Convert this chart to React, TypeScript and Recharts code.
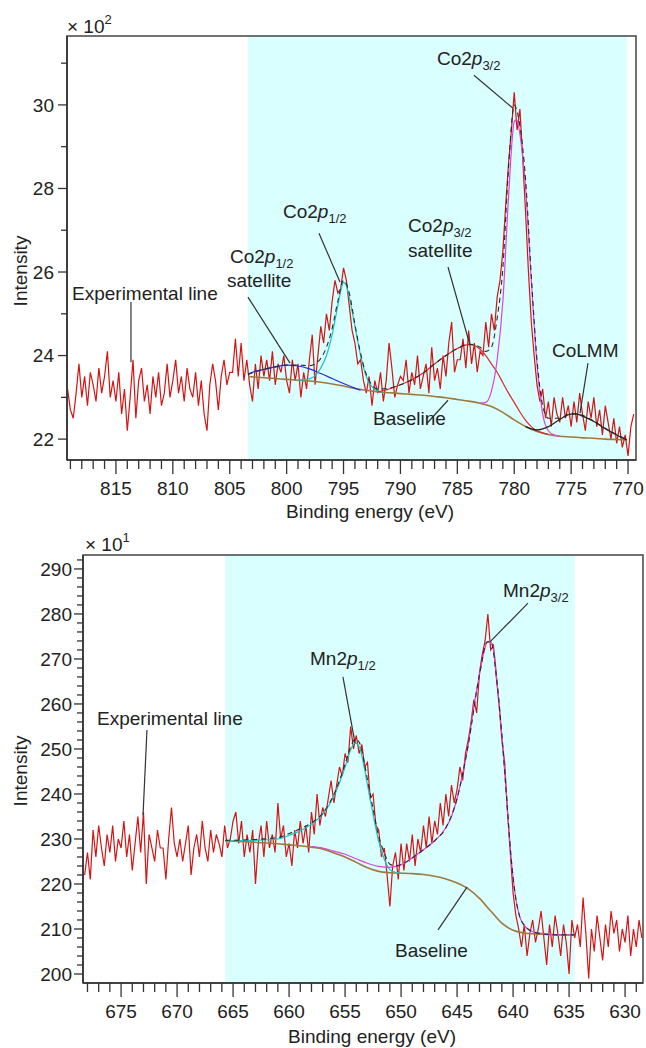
import {
  ComposedChart,
  Line,
  XAxis,
  YAxis,
  ReferenceArea,
  ReferenceLine,
  ReferenceDot,
  Label,
} from 'recharts';

const FONT = '"Liberation Sans", Arial, Helvetica, sans-serif';
const INK = '#222';

// ---------- Co 2p panel (x 10^2) ----------
// experimental counts, 0.25 eV steps starting at 819.25 eV
const coStart = 819.25;
const coStep = 0.25;
const coExperimental = [
  23.2, 22.7, 22.5, 23.1, 23.8, 23.0, 23.5, 22.8, 23.6, 23.3, 22.9, 23.7, 23.1, 23.5, 24.1, 23.0, 23.4, 22.9,
  23.6, 22.6, 23.2, 22.2, 23.0, 23.9, 22.5, 23.4, 23.7, 22.9, 23.3, 22.6, 23.5, 23.0, 23.6, 22.8, 23.1, 23.8, 23.0, 23.4,
  23.9, 23.1, 23.5, 22.9, 23.7, 23.2, 23.0, 23.6, 22.8, 23.4, 22.6, 22.2, 23.3, 23.8, 23.4, 22.7, 23.5, 23.9, 23.3, 23.6,
  23.6, 24.4, 23.5, 24.3, 23.4, 23.9, 23.3, 22.9, 23.8, 23.2, 24.0, 23.5, 23.9, 23.4, 24.1, 23.3, 23.8, 23.6, 24.0, 23.4,
  23.1, 23.9, 23.4, 23.8, 23.0, 23.6, 23.2, 23.9, 24.5, 23.3, 24.0, 24.7, 24.3, 25.0, 24.6, 25.3, 25.8, 25.5, 25.6, 26.1,
  25.8, 25.2, 24.6, 24.3, 23.8, 23.9, 23.4, 23.1, 23.5, 22.8, 23.4, 23.1, 23.6, 22.9, 23.4, 24.3, 23.7, 23.0, 23.3, 23.5,
  23.4, 23.9, 23.1, 23.6, 23.3, 24.0, 23.2, 23.5, 23.8, 23.1, 24.2, 23.4, 23.7, 23.2, 24.0, 23.5, 24.3, 24.8, 23.6, 23.9,
  23.9, 24.4, 23.7, 24.6, 23.8, 24.3, 23.6, 24.1, 24.0, 24.8, 24.2, 25.0, 24.6, 25.4, 25.8, 26.5, 27.6, 28.6, 29.4, 30.3,
  29.4, 29.9, 28.7, 27.4, 26.0, 24.8, 24.0, 23.3, 22.9, 23.2, 22.5, 22.9, 22.3, 23.0, 22.6, 22.4, 23.0, 22.5, 22.8, 22.3,
  22.9, 22.4, 23.1, 22.6, 22.2, 22.9, 22.5, 23.0, 22.3, 22.7, 22.1, 22.8, 22.4, 22.0, 22.5, 21.9, 22.3, 21.8, 22.1, 21.6,
  22.3, 22.6,
];

const coBaseline = [
  [803.4, 23.5], [802, 23.47], [801, 23.45], [800, 23.43], [799, 23.41], [798, 23.39], [797, 23.36],
  [796, 23.32], [795, 23.27], [794, 23.21], [793, 23.17], [792, 23.13], [791, 23.11], [790, 23.09],
  [789, 23.07], [788, 23.05], [787, 23.02], [786, 22.99], [785, 22.95], [784, 22.91], [783, 22.86],
  [782, 22.78], [781, 22.64], [780, 22.46], [779, 22.3], [778, 22.18], [777, 22.11], [776, 22.07],
  [775, 22.05], [774, 22.03], [773, 22.02], [772, 22.0], [771, 21.99], [770.1, 21.98],
];
const co12Satellite = [
  [803.4, 23.55], [803, 23.6], [802, 23.67], [801, 23.73], [800, 23.77], [799, 23.75], [798, 23.68],
  [797, 23.57], [796, 23.45], [795, 23.33], [794, 23.22], [793.5, 23.17],
];
const co12Peak = [
  [799, 23.41], [798, 23.44], [797.5, 23.52], [797, 23.7], [796.5, 24.0], [796, 24.5], [795.5, 25.2],
  [795.2, 25.6], [795, 25.75], [794.8, 25.7], [794.5, 25.4], [794, 24.7], [793.5, 24.0], [793, 23.5],
  [792.5, 23.25], [792, 23.15], [791.5, 23.12],
];
const co32Satellite = [
  [792, 23.13], [791, 23.2], [790, 23.3], [789, 23.42], [788, 23.58], [787, 23.8], [786, 24.0],
  [785, 24.17], [784, 24.26], [783.5, 24.24], [783, 24.15], [782.5, 24.0], [782, 23.8], [781.5, 23.6],
  [781, 23.35], [780.5, 23.1], [780, 22.88], [779.5, 22.65], [779, 22.45], [778.5, 22.3], [778, 22.2],
  [777.5, 22.15], [777, 22.11],
];
const co32Peak = [
  [783, 22.86], [782.5, 22.88], [782, 23.15], [781.5, 23.9], [781, 25.3], [780.5, 27.8], [780, 29.6],
  [779.8, 29.65], [779.5, 29.3], [779, 28.0], [778.5, 25.8], [778, 23.8], [777.5, 22.6], [777, 22.2],
  [776.5, 22.1], [776, 22.07],
];
const coLMM = [
  [779, 22.3], [778, 22.22], [777, 22.3], [776, 22.47], [775, 22.6], [774.5, 22.6], [774, 22.55],
  [773, 22.42], [772, 22.25], [771, 22.1], [770.1, 21.98],
];
const coEnvelope = [
  [803.4, 23.55], [802, 23.67], [801, 23.73], [800, 23.77], [799, 23.77], [798, 23.76], [797.5, 23.8],
  [797, 23.93], [796.5, 24.2], [796, 24.65], [795.5, 25.3], [795, 25.8], [794.5, 25.5], [794, 24.75],
  [793.5, 24.05], [793, 23.55], [792.5, 23.3], [792, 23.2], [791, 23.22], [790, 23.3], [789, 23.42],
  [788, 23.58], [787, 23.8], [786, 24.0], [785, 24.17], [784, 24.27], [783.5, 24.26], [783, 24.2],
  [782.5, 24.1], [782, 24.2], [781.5, 24.9], [781, 26.1], [780.5, 28.5], [780, 30.0], [779.8, 29.9],
  [779.5, 29.5], [779, 28.2], [778.5, 25.9], [778, 23.9], [777.5, 22.8], [777, 22.5], [776, 22.5],
  [775, 22.62], [774, 22.57], [773, 22.43], [772, 22.26], [771, 22.11], [770.1, 21.99],
];

// ---------- Mn 2p panel (x 10^1) ----------
const mnStart = 678.25;
const mnStep = 0.25;
const mnExperimental = [
  222, 227, 221, 232, 226, 233, 228, 224, 231, 227, 233, 225, 230, 228,
  234, 226, 231, 223, 229, 235, 227, 236, 220, 231, 228, 225, 232, 228, 228, 221, 230, 237, 229, 226,
  230, 225, 229, 233, 222, 228, 231, 226, 234, 228, 225, 232, 227, 231, 229, 226, 233, 228, 230, 234,
  236, 229, 234, 226, 231, 227, 232, 220, 229, 233, 226, 234, 228, 231, 227, 238, 230, 233, 226, 229,
  224, 232, 228, 234, 229, 233, 227, 236, 231, 240, 233, 237, 235, 239, 243, 238, 242, 246, 244, 249,
  247, 255, 250, 253, 249, 251, 246, 247, 239, 240, 233, 232, 226, 228, 222, 215, 224, 227, 221, 229,
  223, 229, 225, 231, 224, 230, 227, 233, 228, 235, 229, 234, 231, 238, 233, 240, 235, 242, 238, 241,
  246, 243, 249, 252, 256, 261, 258, 267, 271, 274, 280, 272, 273, 266, 260, 252, 247, 236, 227, 218,
  213, 210, 206, 211, 204, 209, 212, 207, 210, 214, 208, 202, 211, 206, 213, 209, 204, 211, 207, 200,
  212, 208, 211, 206, 217, 209, 199, 210, 205, 213, 208, 203, 211, 206, 214, 209, 212, 205, 210, 207,
  213, 204, 210, 206, 212, 208,
];

const mnBaseline = [
  [665.7, 229.6], [664, 229.4], [662, 229.1], [660, 228.7], [658, 228.2], [657, 227.8], [656, 226.9],
  [655, 226.0], [654, 224.8], [653, 223.6], [652, 222.8], [651, 222.5], [650, 222.4], [649, 222.3],
  [648, 222.1], [647, 221.7], [646, 221.1], [645, 220.2], [644, 218.9], [643, 216.8], [642, 214.0],
  [641, 211.3], [640, 209.7], [639, 209.1], [638, 208.9], [637, 208.8], [636, 208.7], [634.5, 208.7],
];
const mn12Peak = [
  [665.7, 229.6], [663, 229.7], [661, 230.0], [660, 230.8], [659, 231.8], [658, 233.3], [657, 235.5],
  [656, 239.5], [655.5, 242.5], [655, 246], [654.5, 249.8], [654.1, 251.3], [653.7, 250.3], [653.3, 246],
  [653, 242], [652.5, 235.5], [652, 229.5], [651.5, 225.5], [651, 223.2], [650.5, 222.6], [650, 222.4],
];
const mn32Peak = [
  [658, 228.3], [657, 228.0], [656, 227.3], [655, 226.6], [654, 225.6], [653, 224.6], [652, 223.9],
  [651, 223.7], [650, 224.3], [649, 225.8], [648, 227.6], [647, 229.6], [646, 232.5], [645.5, 235],
  [645, 239], [644.5, 244.5], [644, 251], [643.5, 259.5], [643, 266.5], [642.6, 271.5], [642.3, 273.8],
  [642, 273.8], [641.7, 271.5], [641.4, 264], [641, 253], [640.6, 240], [640.2, 226.5], [639.8, 217.5],
  [639.4, 212.7], [639, 210.8], [638.5, 209.7], [638, 209.2], [637, 208.9], [636, 208.7], [634.5, 208.7],
];
const mnEnvelope = [
  [665.7, 229.7], [663, 229.9], [661, 230.3], [660, 231.2], [659, 232.3], [658, 233.6], [657, 235.7],
  [656, 239.9], [655, 246.6], [654.5, 250.5], [654.1, 252.2], [653.7, 251.3], [653.3, 247.2], [653, 243.1],
  [652.5, 236.7], [652, 230.6], [651.5, 226.9], [651, 224.4], [650.5, 224.0], [650, 224.3], [649, 225.8],
  [648, 227.6], [647, 229.6], [646, 232.5], [645, 239], [644, 251], [643, 266.5], [642.3, 273.8],
  [642, 273.8], [641.4, 264], [641, 253], [640.6, 240], [640.2, 226.5], [639.8, 217.5], [639.4, 212.7],
  [639, 210.8], [638, 209.2], [636, 208.7], [634.5, 208.7],
];

// ---------- annotations ----------
type Note = { e: number; v: number; text: string; sub?: string };

const coNotes: Note[] = [
  { e: 786.79, v: 30.95, text: 'Co2', sub: '3/2' },
  { e: 800.32, v: 27.29, text: 'Co2', sub: '1/2' },
  { e: 804.98, v: 26.21, text: 'Co2', sub: '1/2' },
  { e: 805.24, v: 25.64, text: 'satellite' },
  { e: 789.33, v: 26.96, text: 'Co2', sub: '3/2' },
  { e: 789.33, v: 26.36, text: 'satellite' },
  { e: 776.68, v: 23.96, text: 'CoLMM' },
  { e: 792.41, v: 22.34, text: 'Baseline' },
  { e: 818.86, v: 25.33, text: 'Experimental line' },
];
const coLeaders = [
  [783.54, 30.71, 780.11, 29.92],
  [797.16, 26.93, 795.31, 25.76],
  [803.4, 25.4, 799.7, 23.82],
  [785.82, 26.12, 783.89, 24.25],
  [773.52, 23.82, 774.22, 22.62],
  [787.66, 22.38, 785.82, 22.93],
  [813.68, 25.28, 813.68, 23.84],
];

const mnNotes: Note[] = [
  { e: 640.9, v: 283.8, text: 'Mn2', sub: '3/2' },
  { e: 658.13, v: 268.7, text: 'Mn2', sub: '1/2' },
  { e: 677.15, v: 255.3, text: 'Experimental line' },
  { e: 650.54, v: 203.8, text: 'Baseline' },
];
const mnLeaders = [
  [638.67, 282.4, 642.06, 273.8],
  [655.19, 266.0, 654.11, 251.3],
  [672.69, 254.2, 673.04, 235.3],
  [646.7, 209.8, 644.11, 219.3],
];

const coTicksX = Array.from({ length: 50 }, (_, i) => 770 + i);
const coTicksY = Array.from({ length: 10 }, (_, i) => 22 + i);
const mnTicksX = Array.from({ length: 50 }, (_, i) => 629 + i);
const mnTicksY = Array.from({ length: 47 }, (_, i) => 200 + i * 2);

const toSeries = (values: number[], start: number, step: number) =>
  values.map((v, i) => ({ e: +(start - i * step).toFixed(2), v }));
const toPoints = (pairs: number[][]) => pairs.map(([e, v]) => ({ e, v }));

const makeXTick = (major: number) => (props: any) => {
  const { x, y, payload } = props;
  const isMajor = payload.value % major === 0;
  return (
    <g>
      <line x1={x} x2={x} y1={y} y2={y + (isMajor ? 14 : 9)} stroke="#333" strokeWidth={1.3} />
      {isMajor && (
        <text x={x} y={y + 35} textAnchor="middle" fontSize={19} fill={INK} fontFamily={FONT}>
          {payload.value}
        </text>
      )}
    </g>
  );
};

const makeYTick = (major: number, gap: number) => (props: any) => {
  const { x, y, payload } = props;
  const isMajor = payload.value % major === 0;
  return (
    <g>
      <line x1={x - (isMajor ? 9 : 6)} x2={x} y1={y} y2={y} stroke="#333" strokeWidth={1.3} />
      {isMajor && (
        <text x={x - gap} y={y} dy="0.36em" textAnchor="end" fontSize={19} fill={INK} fontFamily={FONT}>
          {payload.value}
        </text>
      )}
    </g>
  );
};

const NoteText = ({ cx, cy, note }: { cx: number; cy: number; note: Note }) => (
  <text x={cx} y={cy} fontSize={19} fill={INK} fontFamily={FONT}>
    {note.text}
    {note.sub && <tspan fontStyle="italic">p</tspan>}
    {note.sub && (
      <tspan fontSize={13} dy={5}>
        {note.sub}
      </tspan>
    )}
  </text>
);

const renderNotes = (notes: Note[], leaders: number[][]) => [
  ...leaders.map(([e1, v1, e2, v2], i) => (
    <ReferenceLine
      key={`l${i}`}
      segment={[{ x: e1, y: v1 }, { x: e2, y: v2 }]}
      stroke="#333"
      strokeWidth={1.2}
      ifOverflow="visible"
    />
  )),
  ...notes.map((n, i) => (
    <ReferenceDot
      key={`n${i}`}
      x={n.e}
      y={n.v}
      r={0}
      ifOverflow="visible"
      shape={(p: any) => <NoteText cx={p.cx} cy={p.cy} note={n} />}
    />
  )),
];

type PanelProps = {
  top: number;
  height: number;
  margin: { top: number; right: number; bottom: number; left: number };
  yWidth: number;
  xDomain: [number, number];
  yDomain: [number, number];
  xTicks: number[];
  yTicks: number[];
  yMajor: number;
  yGap: number;
  shade: [number, number];
  exponent: string;
  expX: number;
  expY: number;
  titleY: number;
  titleX: number;
  xTitleY: number;
  xTitleX: number;
  experimental: { e: number; v: number }[];
  fits: { data: { e: number; v: number }[]; color: string; dash?: string; width?: number }[];
  notes: Note[];
  leaders: number[][];
};

const Panel = (p: PanelProps) => (
  <div style={{ position: 'absolute', left: 0, top: p.top }}>
    <ComposedChart width={646} height={p.height} margin={p.margin}>
      <XAxis
        type="number"
        dataKey="e"
        domain={p.xDomain}
        reversed
        allowDataOverflow
        ticks={p.xTicks}
        interval={0}
        tickSize={0}
        tickMargin={0}
        tickLine={false}
        height={30}
        axisLine={{ stroke: '#333', strokeWidth: 1.6 }}
        tick={makeXTick(5)}
      >
        <Label
          content={() => (
            <text x={p.xTitleX} y={p.xTitleY} textAnchor="middle" fontSize={19} fill={INK} fontFamily={FONT}>
              Binding energy (eV)
            </text>
          )}
        />
      </XAxis>
      <YAxis
        type="number"
        dataKey="v"
        domain={p.yDomain}
        allowDataOverflow
        ticks={p.yTicks}
        interval={0}
        tickSize={0}
        tickMargin={0}
        tickLine={false}
        width={p.yWidth}
        axisLine={{ stroke: '#333', strokeWidth: 1.6 }}
        tick={makeYTick(p.yMajor, p.yGap)}
      >
        <Label
          content={() => (
            <g fontFamily={FONT} fill={INK}>
              <text
                x={p.titleX}
                y={p.titleY}
                textAnchor="middle"
                fontSize={19}
                transform={`rotate(-90 ${p.titleX} ${p.titleY})`}
              >
                Intensity
              </text>
              <text x={p.expX} y={p.expY} fontSize={19}>
                × 10
                <tspan fontSize={13} dy={-9}>
                  {p.exponent}
                </tspan>
              </text>
            </g>
          )}
        />
      </YAxis>
      <ReferenceArea x1={p.shade[0]} x2={p.shade[1]} y1={p.yDomain[0]} y2={p.yDomain[1]} fill="#d9ffff" fillOpacity={1} stroke="none" />
      <ReferenceArea
        x1={p.xDomain[0]}
        x2={p.xDomain[1]}
        y1={p.yDomain[0]}
        y2={p.yDomain[1]}
        fill="none"
        stroke="#444"
        strokeWidth={1.5}
      />
      <Line
        data={p.experimental}
        dataKey="v"
        type="linear"
        stroke="#d41414"
        strokeWidth={1.2}
        dot={false}
        isAnimationActive={false}
      />
      {p.fits.map((f, i) => (
        <Line
          key={i}
          data={f.data}
          dataKey="v"
          type="monotone"
          stroke={f.color}
          strokeWidth={f.width ?? 1.2}
          strokeDasharray={f.dash}
          dot={false}
          isAnimationActive={false}
        />
      ))}
      {renderNotes(p.notes, p.leaders)}
    </ComposedChart>
  </div>
);

export default function App() {
  return (
    <div
      style={{
        position: 'absolute',
        left: 0,
        top: 0,
        width: 646,
        height: 1048,
        overflow: 'hidden',
        background: '#fff',
      }}
    >
      <Panel
        top={0}
        height={530}
        margin={{ top: 36, right: 10, bottom: 40, left: 0 }}
        yWidth={67}
        xDomain={[769.3, 819.3]}
        yDomain={[21.5, 31.65]}
        xTicks={coTicksX}
        yTicks={coTicksY}
        yMajor={2}
        yGap={13}
        shade={[770.1, 803.4]}
        exponent="2"
        expX={67}
        expY={33}
        titleX={27}
        titleY={271}
        xTitleX={370}
        xTitleY={518}
        experimental={toSeries(coExperimental, coStart, coStep)}
        fits={[
          { data: toPoints(coBaseline), color: '#a0783c', width: 1.6 },
          { data: toPoints(co12Satellite), color: '#2a2ae0' },
          { data: toPoints(co12Peak), color: '#1cc4c4' },
          { data: toPoints(co32Satellite), color: '#e02828' },
          { data: toPoints(co32Peak), color: '#e040e0' },
          { data: toPoints(coLMM), color: '#202020' },
          { data: toPoints(coEnvelope), color: '#2a2a2a', dash: '5 4', width: 1.1 },
        ]}
        notes={coNotes}
        leaders={coLeaders}
      />
      <Panel
        top={530}
        height={518}
        margin={{ top: 25, right: 3, bottom: 35, left: 0 }}
        yWidth={83}
        xDomain={[628.4, 678.4]}
        yDomain={[198, 293.1]}
        xTicks={mnTicksX}
        yTicks={mnTicksY}
        yMajor={10}
        yGap={11}
        shade={[634.5, 665.7]}
        exponent="1"
        expX={85}
        expY={21}
        titleX={27}
        titleY={241}
        xTitleX={372}
        xTitleY={513}
        experimental={toSeries(mnExperimental, mnStart, mnStep)}
        fits={[
          { data: toPoints(mnBaseline), color: '#a0783c', width: 1.6 },
          { data: toPoints(mn12Peak), color: '#1cc4c4' },
          { data: toPoints(mn32Peak), color: '#e040e0' },
          { data: toPoints(mnEnvelope), color: '#2a2a2a', dash: '5 4', width: 1.1 },
        ]}
        notes={mnNotes}
        leaders={mnLeaders}
      />
    </div>
  );
}
